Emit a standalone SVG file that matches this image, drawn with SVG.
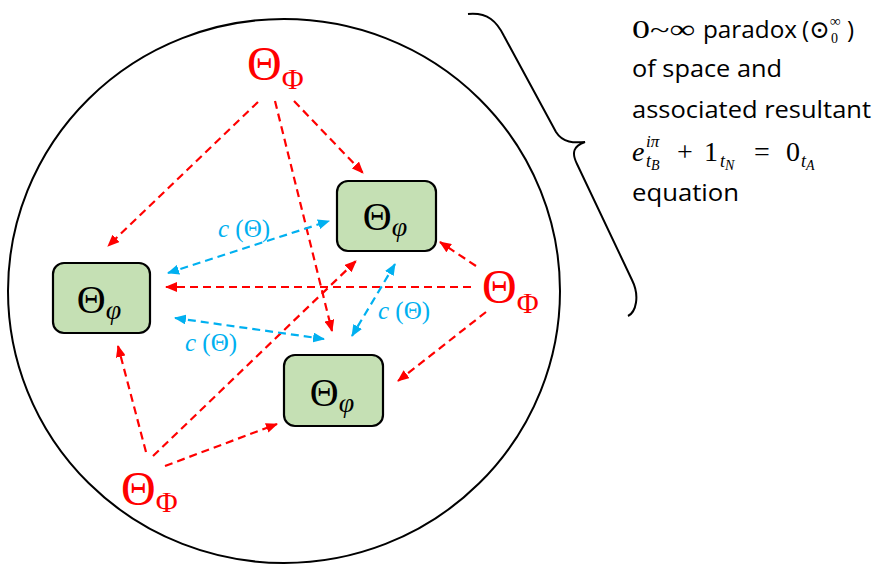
<svg xmlns="http://www.w3.org/2000/svg" width="875" height="564" viewBox="0 0 875 564">
<style>
.bd{fill:none;stroke:#000;stroke-width:2}
.box{fill:#C5E0B4;stroke:#000;stroke-width:2.2}
.red{fill:none;stroke:#FF0000;stroke-width:2.2;stroke-dasharray:8 5}
.blue{fill:none;stroke:#00B0F0;stroke-width:2.2;stroke-dasharray:8 5}
.ser{font-family:"Liberation Serif","DejaVu Serif",serif;fill:#000}
.sans{font-family:"Open Sans","Noto Sans","Liberation Sans",sans-serif;font-size:24px;fill:#000}
.nl{font-family:"Liberation Serif","DejaVu Serif",serif;font-size:40px;fill:#000}
.pl{font-family:"Liberation Serif","DejaVu Serif",serif;fill:#FF0000}
.cl{font-family:"Liberation Serif","DejaVu Serif",serif;font-size:25px;fill:#00B0F0}
.it{font-style:italic}
</style>
<defs>
<marker id="ar" viewBox="0 0 12 10" refX="11" refY="5" markerWidth="12" markerHeight="10" markerUnits="userSpaceOnUse" orient="auto"><path d="M0,0 L12,5 L0,10 z" fill="#FF0000"/></marker>
<marker id="ab" viewBox="0 0 12 10" refX="11" refY="5" markerWidth="12" markerHeight="10" markerUnits="userSpaceOnUse" orient="auto-start-reverse"><path d="M0,0 L12,5 L0,10 z" fill="#00B0F0"/></marker>
</defs>
<g id="boundary">
<ellipse class="bd" cx="284" cy="291" rx="276" ry="272"/>
<path class="bd" d="M468,14 C488,12 497,22 504,36 L556,132 C563,143 574,143 585,142 C574,146 571,152 577,164 L632,280 C640,296 636,312 628,316"/>
</g>
<g id="description">
<text class="ser" x="632" y="38" font-size="26" textLength="63" lengthAdjust="spacingAndGlyphs">0~∞</text>
<text class="sans" x="703" y="38" textLength="94" lengthAdjust="spacingAndGlyphs">paradox</text>
<text class="sans" x="802" y="38">(</text>
<text class="ser" x="809" y="38" font-size="25">⊙</text>
<text class="ser it" x="830" y="26" font-size="15">∞</text>
<text class="ser" x="831" y="43" font-size="14">0</text>
<text class="sans" x="847" y="38">)</text>
<text class="sans" x="632" y="77" textLength="150" lengthAdjust="spacingAndGlyphs">of space and</text>
<text class="sans" x="632" y="118" textLength="239" lengthAdjust="spacingAndGlyphs">associated resultant</text>
<text class="ser it" x="632" y="161" font-size="28">e</text>
<text class="ser it" x="646" y="147" font-size="17">iπ</text>
<text class="ser it" x="646" y="167" font-size="18">t<tspan font-size="14" dy="3">B</tspan></text>
<text class="ser" x="677" y="161" font-size="28">+</text>
<text class="ser" x="704" y="161" font-size="28">1</text>
<text class="ser it" x="720" y="167" font-size="18">t<tspan font-size="14" dy="3">N</tspan></text>
<text class="ser" x="754" y="161" font-size="28">=</text>
<text class="ser" x="786" y="161" font-size="28">0</text>
<text class="ser it" x="801" y="167" font-size="18">t<tspan font-size="14" dy="3">A</tspan></text>
<text class="sans" x="632" y="201" textLength="107" lengthAdjust="spacingAndGlyphs">equation</text>
</g>
<g id="connectors">
<line class="red" x1="258" y1="102" x2="108" y2="246" marker-end="url(#ar)"/>
<line class="red" x1="294" y1="101" x2="363" y2="173" marker-end="url(#ar)"/>
<line class="red" x1="275" y1="101" x2="332" y2="331" marker-end="url(#ar)"/>
<line class="red" x1="471" y1="287" x2="166" y2="287" marker-end="url(#ar)"/>
<line class="red" x1="476" y1="266" x2="440" y2="242" marker-end="url(#ar)"/>
<line class="red" x1="486" y1="312" x2="398" y2="381" marker-end="url(#ar)"/>
<line class="red" x1="146" y1="452" x2="118" y2="346" marker-end="url(#ar)"/>
<line class="red" x1="153" y1="456" x2="356" y2="261" marker-end="url(#ar)"/>
<line class="red" x1="165" y1="466" x2="277" y2="424" marker-end="url(#ar)"/>
<line class="blue" x1="168" y1="273" x2="329" y2="221" marker-start="url(#ab)" marker-end="url(#ab)"/>
<line class="blue" x1="175" y1="318" x2="324" y2="339" marker-start="url(#ab)" marker-end="url(#ab)"/>
<line class="blue" x1="395" y1="264" x2="352" y2="336" marker-start="url(#ab)" marker-end="url(#ab)"/>
</g>
<g id="labels-c">
<text class="cl" x="218" y="237"><tspan class="it">c</tspan> (Θ)</text>
<text class="cl" x="185" y="351"><tspan class="it">c</tspan> (Θ)</text>
<text class="cl" x="378" y="319"><tspan class="it">c</tspan> (Θ)</text>
</g>
<g id="node-left">
<rect class="box" x="53" y="263" width="97" height="70" rx="11"/>
<text class="nl" x="99" y="313" text-anchor="middle">Θ<tspan font-size="28" class="it" dy="6">φ</tspan></text>
</g>
<g id="node-top">
<rect class="box" x="337" y="181" width="99" height="70" rx="11"/>
<text class="nl" x="385" y="230" text-anchor="middle">Θ<tspan font-size="28" class="it" dy="6">φ</tspan></text>
</g>
<g id="node-bottom">
<rect class="box" x="284" y="355" width="99" height="71" rx="11"/>
<text class="nl" x="332" y="406" text-anchor="middle">Θ<tspan font-size="28" class="it" dy="6">φ</tspan></text>
</g>
<g id="source-top">
<text class="pl" x="247" y="80" font-size="48">Θ<tspan font-size="30" dy="9">Φ</tspan></text>
</g>
<g id="source-right">
<text class="pl" x="482" y="303" font-size="48">Θ<tspan font-size="30" dy="10">Φ</tspan></text>
</g>
<g id="source-bottom">
<text class="pl" x="121" y="505" font-size="48">Θ<tspan font-size="30" dy="7">Φ</tspan></text>
</g>
</svg>
